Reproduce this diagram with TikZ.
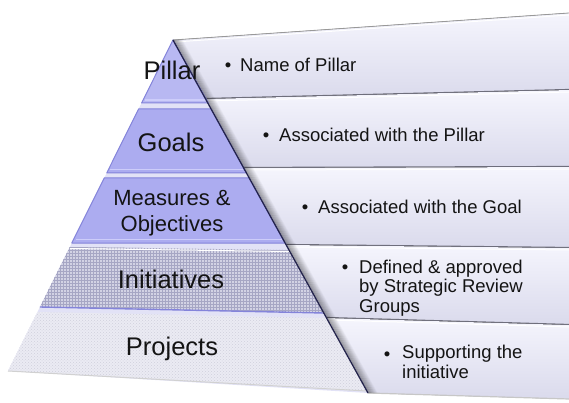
\documentclass[tikz,border=0pt]{standalone}
\usepackage{fontspec}
\setmainfont{Liberation Sans}
\usetikzlibrary{patterns}

\definecolor{panelTop}{HTML}{F5F5FD}
\definecolor{panelBot}{HTML}{DADAEC}
\definecolor{sepline}{HTML}{6E6E7C}
\definecolor{peri}{HTML}{ACACF0}
\definecolor{periEdge}{HTML}{8484DA}
\definecolor{periLight}{HTML}{CDCDFA}
\definecolor{gapFill}{HTML}{E2E2F6}
\definecolor{initFill}{HTML}{D2D2E4}
\definecolor{initGrid}{HTML}{A6A6C4}
\definecolor{projFill}{HTML}{EBEBF3}
\definecolor{projDots}{HTML}{CFCFDD}
\definecolor{edgeDark}{HTML}{24244C}

\begin{document}
\begin{tikzpicture}[x=1pt,y=-1pt,
  every node/.style={inner sep=0pt,text=black!92},
  lvl/.style={font=\fontsize{25.5}{27}\selectfont,anchor=base},
  lvlsm/.style={font=\fontsize{22}{26}\selectfont,anchor=base,align=center},
  dot/.style={font=\fontsize{18.5}{20}\selectfont,anchor=base},
  txt/.style={font=\fontsize{18.5}{19.5}\selectfont,anchor=base west,align=left},
  band/.style={fill=peri,draw=periEdge,line width=1pt,line join=round},
  hl/.style={draw=periLight,line width=1.2pt},
  seg/.style={draw=sepline,line width=2.2pt}]
\useasboundingbox (0,0) rectangle (569,403);

% panels behind the pyramid
\foreach \lt/\rt/\lb/\rb [count=\i] in {40/13/99/90,99/90/168/167,168/167/245/248,245/248/318/325,318/325/393/399}{
  \pgfmathsetmacro\xt{173+0.5524*(\lt-40)}
  \pgfmathsetmacro\xb{173+0.5524*(\lb-40)}
  \fill[top color=panelTop,bottom color=panelBot] (\xt,\lt) -- (569,\rt) -- (569,\rb) -- (\xb,\lb) -- cycle;
  \draw[white,line width=1pt] (\xt+2,\lt+2) -- (569,\rt+2);
  \ifnum\i<5 \draw[seg] (\xb,\lb) -- (569,\rb); \fi
}
\draw[black!40,line width=0.8pt] (173,40) -- (569,13);
\draw[black!22,line width=1.2pt] (368,393) -- (569,399);

% shadow along the pyramid side
\foreach \k in {1,...,9}
  \draw[black,opacity=0.028*(10-\k),line width=1.2pt] (173+\k,40) -- (368+\k,393);

% pyramid
\fill[gapFill] (173,40) -- (368,393) -- (8,371) -- cycle;
\path[band,fill=peri!85!white] (173,40) -- (208.4,103) -- (141.6,103) -- cycle;
\path[band] (138.6,109) -- (211.1,109) -- (246.5,173) -- (106.7,173) -- cycle;
\path[band] (104.2,178) -- (249.2,178) -- (285.1,243) -- (71.8,243) -- cycle;
\draw[hl] (144.5,100) -- (205.5,100);
\draw[hl] (110,169.5) -- (243,169.5);
\draw[hl] (75.5,239.5) -- (281.5,239.5);
\fill[initFill] (69.8,247) -- (289,250) -- (323.8,313) -- (39.9,307) -- cycle;
\fill[pattern=grid,pattern color=initGrid] (69.8,247) -- (289,250) -- (323.8,313) -- (39.9,307) -- cycle;
\draw[white,line width=1pt] (69.8,248.5) -- (289,251.5);
\draw[periEdge,line width=1.4pt] (39.9,307) -- (323.8,313);
\fill[projFill] (37.4,312) -- (326.6,318) -- (366.9,391) -- (8,371) -- cycle;
\fill[pattern=crosshatch dots,pattern color=projDots] (37.4,312) -- (326.6,318) -- (366.9,391) -- (8,371) -- cycle;
\draw[black!18,line width=1pt] (8,371) -- (366.9,391);
\draw[edgeDark,line width=1.3pt] (173,40) -- (368,393);

% level labels
\node[lvl] (pillar) at (172,80) {Pillar};
\node[lvl] (goals) at (171,152) {Goals};
\node[lvlsm] (measures) at (172,231) {Measures \&\\Objectives};
\node[lvl] (initiatives) at (171,288) {Initiatives};
\node[lvl] (projects) at (172,355) {Projects};

% descriptions
\node[dot] (dotPillar) at (228,72) {\textbullet};
\node[txt] (txtPillar) at (240,72) {Name of Pillar};
\node[dot] (dotGoals) at (266,142) {\textbullet};
\node[txt] (txtGoals) at (279,142) {Associated with the Pillar};
\node[dot] (dotMeasures) at (305,213) {\textbullet};
\node[txt] (txtMeasures) at (318,213) {Associated with the Goal};
\node[dot] (dotInit) at (345,273) {\textbullet};
\node[txt] (txtInit) at (359,312) {Defined \& approved\\by Strategic Review\\Groups};
\node[dot] (dotProj) at (387,360) {\textbullet};
\node[txt] (txtProj) at (402,378) {Supporting the\\initiative};
\end{tikzpicture}
\end{document}
